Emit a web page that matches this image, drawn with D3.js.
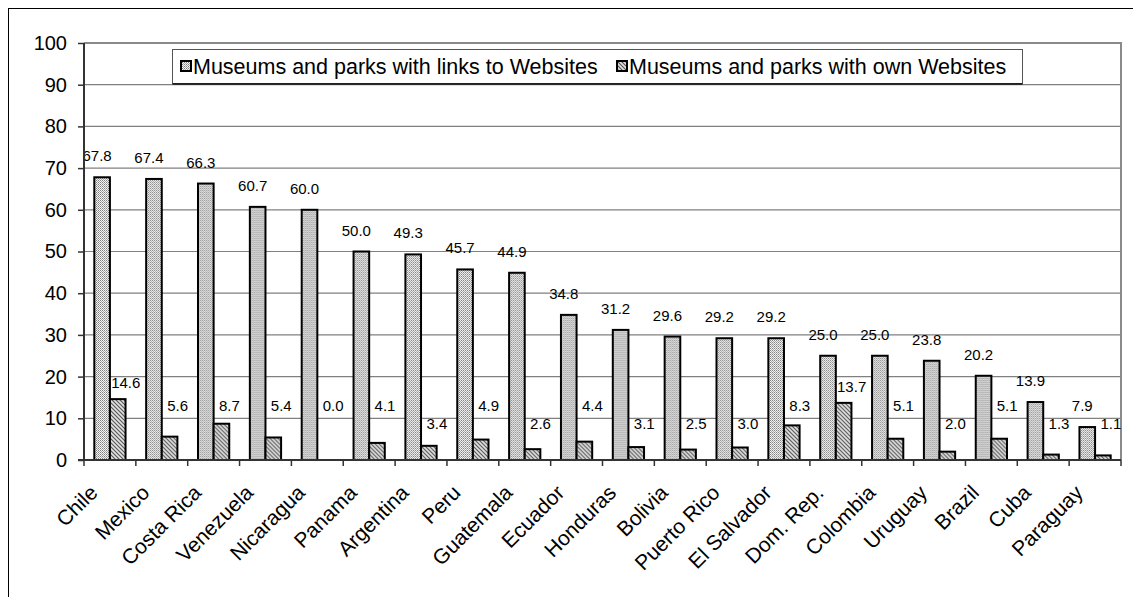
<!DOCTYPE html>
<html>
<head>
<meta charset="utf-8">
<script src="https://cdn.jsdelivr.net/npm/d3@7/dist/d3.min.js"></script>
<style>
  html, body { margin: 0; padding: 0; background: #fff; }
  svg { display: block; font-family: "Liberation Sans", Arial, sans-serif; }
</style>
</head>
<body>
<svg id="chart" width="1133" height="597"></svg>
<script>
// Share of museums and parks with web presence, by country (%)
const countries = ["Chile", "Mexico", "Costa Rica", "Venezuela", "Nicaragua", "Panama",
  "Argentina", "Peru", "Guatemala", "Ecuador", "Honduras", "Bolivia", "Puerto Rico",
  "El Salvador", "Dom. Rep.", "Colombia", "Uruguay", "Brazil", "Cuba", "Paraguay"];
const linksToWebsites = [67.8, 67.4, 66.3, 60.7, 60.0, 50.0, 49.3, 45.7, 44.9, 34.8,
  31.2, 29.6, 29.2, 29.2, 25.0, 25.0, 23.8, 20.2, 13.9, 7.9];
const ownWebsites = [14.6, 5.6, 8.7, 5.4, 0.0, 4.1, 3.4, 4.9, 2.6, 4.4,
  3.1, 2.5, 3.0, 8.3, 13.7, 5.1, 2.0, 5.1, 1.3, 1.1];
const seriesNames = ["Museums and parks with links to Websites", "Museums and parks with own Websites"];
const yTicks = [0, 10, 20, 30, 40, 50, 60, 70, 80, 90, 100];

const svg = d3.select("#chart");
const plot = { left: 84, right: 1121, top: 43, bottom: 460 };

// Fill patterns
const defs = svg.append("defs");
const dots = defs.append("pattern").attr("id", "dots")
  .attr("patternUnits", "userSpaceOnUse").attr("width", 2).attr("height", 2);
dots.append("rect").attr("width", 2).attr("height", 2).attr("fill", "#f4f4f4");
dots.append("rect").attr("width", 1).attr("height", 1).attr("fill", "#808080");
dots.append("rect").attr("x", 1).attr("y", 1).attr("width", 1).attr("height", 1).attr("fill", "#a8a8a8");

const hatch = defs.append("pattern").attr("id", "hatch")
  .attr("patternUnits", "userSpaceOnUse").attr("width", 4).attr("height", 4);
hatch.append("rect").attr("width", 4).attr("height", 4).attr("fill", "#e0e0e0");
hatch.append("path").attr("d", "M-1,-1 L5,5 M-1,3 L1,5 M3,-1 L5,1")
  .attr("stroke", "#555").attr("stroke-width", 1.1);

const fills = ["url(#dots)", "url(#hatch)"];

// Outer chart frame
svg.append("rect").attr("x", 8.5).attr("y", 8.5).attr("width", 1140).attr("height", 600)
  .attr("fill", "none").attr("stroke", "#000").attr("stroke-width", 1);

const x = d3.scaleBand().domain(countries).range([plot.left, plot.right]).paddingInner(0).paddingOuter(0);
const xs = d3.scaleBand().domain([0, 1]).range([0, x.bandwidth()]).paddingInner(0).paddingOuter(0.66);
const y = d3.scaleLinear().domain([0, 100]).range([plot.bottom, plot.top]);

// Gridlines
svg.append("g").selectAll("line").data(yTicks.filter(t => t > 0 && t < 100)).join("line")
  .attr("x1", plot.left).attr("x2", plot.right)
  .attr("y1", d => y(d)).attr("y2", d => y(d))
  .attr("stroke", "#808080").attr("stroke-width", 1.2);

// Plot area border (top and right)
svg.append("path")
  .attr("d", `M${plot.left},${y(100)} H${plot.right} V${plot.bottom}`)
  .attr("fill", "none").attr("stroke", "#8a8a8a").attr("stroke-width", 2);

// Bars
const rows = countries.map((c, i) => ({ c, vals: [linksToWebsites[i], ownWebsites[i]] }));
const groups = svg.append("g").selectAll("g").data(rows).join("g")
  .attr("transform", d => `translate(${x(d.c)},0)`);
groups.selectAll("rect").data(d => d.vals.map((v, k) => ({ v, k }))).join("rect")
  .attr("x", d => xs(d.k)).attr("width", xs.bandwidth())
  .attr("y", d => y(d.v)).attr("height", d => y(0) - y(d.v))
  .attr("fill", d => fills[d.k]).attr("stroke", "#000").attr("stroke-width", 2);

// Value labels
function ownLabelBaseline(v) {
  if (v >= 10) return y(v) - 11;
  if (v >= 4 || v === 0) return 411;
  return 429;
}
groups.append("text")
  .attr("x", d => xs(0) + xs.bandwidth() / 2 - 5)
  .attr("y", d => y(d.vals[0]) - 16)
  .attr("text-anchor", "middle").attr("font-size", 15).attr("fill", "#000")
  .text(d => d.vals[0].toFixed(1));
groups.append("text")
  .attr("x", d => xs(1) + xs.bandwidth() / 2 + 8)
  .attr("y", d => ownLabelBaseline(d.vals[1]))
  .attr("text-anchor", "middle").attr("font-size", 15).attr("fill", "#000")
  .text(d => d.vals[1].toFixed(1));

// Y axis
const yAxis = svg.append("g").attr("transform", `translate(${plot.left},0)`)
  .call(d3.axisLeft(y).tickValues(yTicks).tickSize(6).tickPadding(11).tickFormat(d3.format("d")));
yAxis.select(".domain").attr("stroke", "#333").attr("stroke-width", 2).attr("d", `M0,${plot.top}V${plot.bottom}`);
yAxis.selectAll(".tick line").attr("stroke", "#333").attr("stroke-width", 1.5);
yAxis.selectAll(".tick text").attr("font-size", 20).attr("font-family", "Liberation Sans, Arial, sans-serif").attr("fill", "#000");

// X axis line and tick marks at category boundaries
svg.append("line").attr("x1", plot.left - 6).attr("x2", plot.right)
  .attr("y1", plot.bottom).attr("y2", plot.bottom).attr("stroke", "#333").attr("stroke-width", 2);
const bounds = countries.map(c => x(c)).concat([plot.right]);
svg.append("g").selectAll("line").data(bounds).join("line")
  .attr("x1", d => d).attr("x2", d => d)
  .attr("y1", plot.bottom).attr("y2", plot.bottom + 6)
  .attr("stroke", "#333").attr("stroke-width", 1.5);

// Category labels
svg.append("g").selectAll("text").data(countries).join("text")
  .attr("transform", d => `translate(${x(d) + x.bandwidth() / 2 - 11},494) rotate(-45)`)
  .attr("text-anchor", "end").attr("font-size", 21).attr("fill", "#000")
  .text(d => d);

// Legend
const legend = svg.append("g");
legend.append("rect").attr("x", 172.5).attr("y", 49.5).attr("width", 850).attr("height", 34)
  .attr("fill", "#fff").attr("stroke", "#555").attr("stroke-width", 1);
legend.append("line").attr("x1", 172.5).attr("x2", 1022.5).attr("y1", 84).attr("y2", 84)
  .attr("stroke", "#111").attr("stroke-width", 1.5);
const legendX = [181, 617];
seriesNames.forEach((name, k) => {
  legend.append("rect").attr("x", legendX[k]).attr("y", 61).attr("width", 10).attr("height", 10)
    .attr("fill", fills[k]).attr("stroke", "#000").attr("stroke-width", 2);
  legend.append("text").attr("x", legendX[k] + 12).attr("y", 74)
    .attr("font-size", 21.5).attr("fill", "#000").text(name);
});
</script>
</body>
</html>
